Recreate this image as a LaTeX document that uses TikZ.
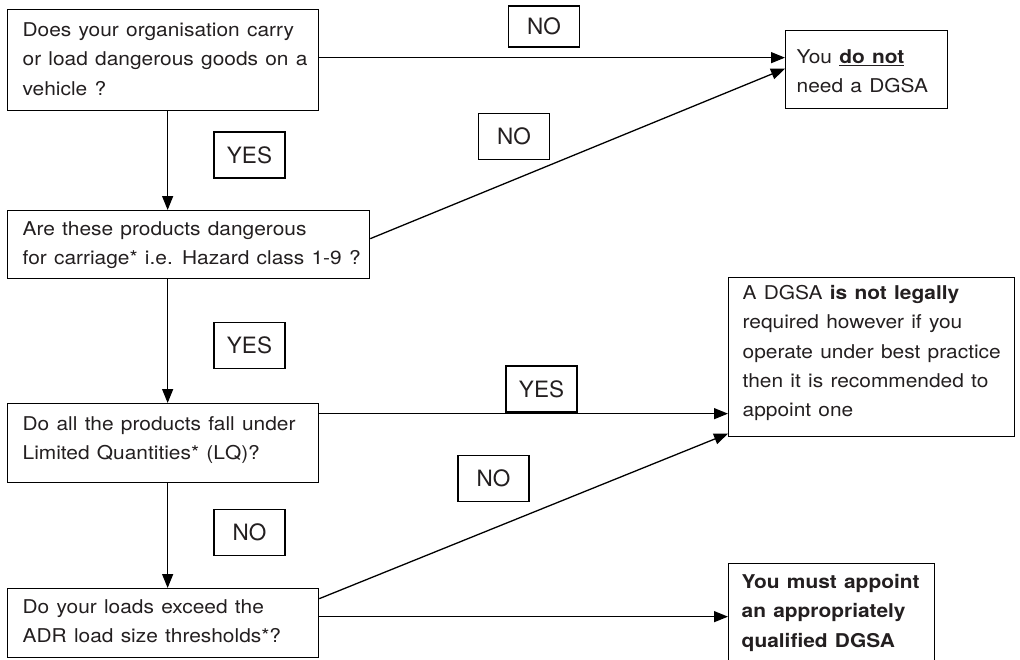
\documentclass[tikz,border=0pt]{standalone}
\usepackage{fontspec}
\setmainfont{TeX Gyre Heros}
\newfontfamily\bodyfont{TeX Gyre Heros}[FakeStretch=1.1,WordSpace=1.25]
\usetikzlibrary{arrows.meta}
\definecolor{ink}{RGB}{35,31,32}
\newcommand\bx[5]{\parbox[c][#2pt][t]{#1pt}{\parindent=0pt\leftskip=#3pt\rightskip=0pt plus 1fil\vspace*{#4pt}\strut #5}}
\begin{document}
\begin{tikzpicture}[x=1pt,y=-1pt,line width=1.3pt,
  box/.style={draw,inner sep=0pt,anchor=north west,text=ink,font=\bodyfont\fontsize{19}{29.3}\selectfont},
  lbl/.style={draw,inner sep=0pt,minimum width=71pt,minimum height=46pt,text=ink,font=\fontsize{22.5}{27}\selectfont},
  arr/.style={-{Triangle[length=14pt,width=11pt]}}]
\useasboundingbox (0,0) rectangle (1020,659);
\clip (0,0) rectangle (1020,659);
% question boxes
\node[box] (A) at (7,9) {\bx{311}{101}{15}{6.5}{\mbox{Does your organisation carry}\\\mbox{or load dangerous goods on a}\\\mbox{vehicle ?}}};
\node[box] (B) at (7,210) {\bx{362}{68}{15}{4.5}{\mbox{Are these products dangerous}\\\mbox{for carriage* i.e. Hazard class 1-9 ?}}};
\node[box] (F) at (7,403) {\bx{311}{79}{15}{6.5}{\mbox{Do all the products fall under}\\\mbox{Limited Quantities* (LQ)?}}};
\node[box] (G) at (7,588) {\bx{311}{69}{15}{4.5}{\mbox{Do your loads exceed the}\\\mbox{ADR load size thresholds*?}}};
% outcome boxes
\node[box] (C) at (785,30) {\bx{162}{78}{11}{12.5}{\mbox{You \underline{\textbf{do not}}}\\\mbox{need a DGSA}}};
\node[box] (D) at (728,277) {\bx{286}{159}{14}{1.5}{\mbox{A DGSA \textbf{is not legally}}\\\mbox{required however if you}\\\mbox{operate under best practice}\\\mbox{then it is recommended to}\\\mbox{appoint one}}};
\node[box] (E) at (728,563) {\bx{206}{120}{13}{4.5}{\mbox{\textbf{You must appoint}}\\\mbox{\textbf{an appropriately}}\\\mbox{\textbf{qualified DGSA}}}};
% labels
\node[lbl,minimum height=41pt] (l1) at (544,26.5) {NO};
\node[lbl] (l2) at (514,136.5) {NO};
\node[lbl] (l3) at (249.5,155) {YES};
\node[lbl] (l4) at (249.5,345.5) {YES};
\node[lbl] (l5) at (541.5,389) {YES};
\node[lbl] (l6) at (493.5,478.5) {NO};
\node[lbl] (l7) at (249.5,532.5) {NO};
% connectors
\draw[arr] ([xshift=4.5]A.south) -- ([xshift=4.5]A.south |- B.north);
\draw[arr] ([xshift=4.5]F.north |- B.south) -- ([xshift=4.5]F.north);
\draw[arr] ([xshift=4.5]F.south) -- ([xshift=4.5]F.south |- G.north);
\draw[arr] ([yshift=2.5]A.east) -- ([yshift=2.5]A.east -| C.west);
\draw[arr] ([yshift=6]B.east) -- ([yshift=1]C.west);
\draw[arr] ([yshift=29.5]F.east) -- ([yshift=29.5]F.east -| D.west);
\draw[arr] ([yshift=24.5]G.east) -- ([yshift=-76.5]D.west);
\draw[arr] ([yshift=6.5]G.east) -- ([yshift=6.5]G.east -| E.west);
\end{tikzpicture}
\end{document}
